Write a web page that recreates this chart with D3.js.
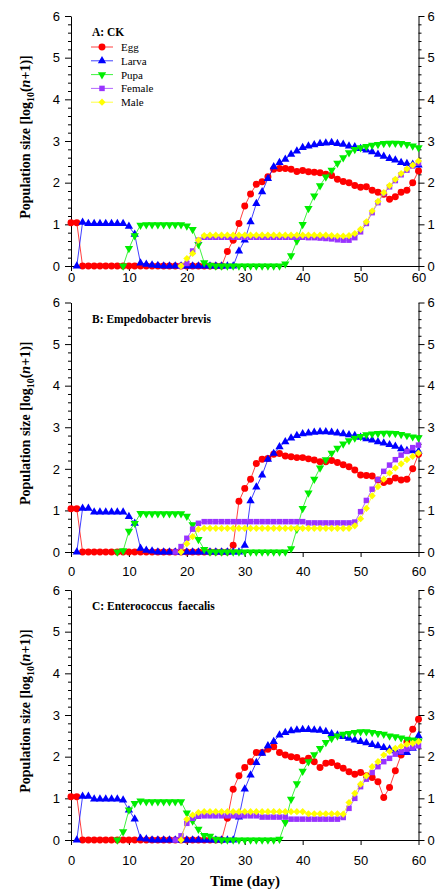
<!DOCTYPE html>
<html>
<head>
<meta charset="utf-8">
<script src="https://cdn.jsdelivr.net/npm/d3@7"></script>
<style>
    body { margin: 0; background: #fff; }
    svg { display: block; }
    .tick text { font-family: Arial, "Liberation Sans", sans-serif; font-size: 13px; fill: #000; }
    .domain, .tick line { stroke: #000; stroke-width: 1px; }
</style>
</head>
<body>
<div id="chart"></div>
<script>
// ---------- data ----------
const days = d3.range(0, 61);
const stageNames = ["Egg", "Larva", "Pupa", "Female", "Male"];
const stageColors = ["#ff0000", "#0000ff", "#00ee00", "#9933ff", "#ffff00"];
const xTicks = [0, 10, 20, 30, 40, 50, 60];
const yTicks = [0, 1, 2, 3, 4, 5, 6];
const panelTitles = ["A: CK", "B: Empedobacter brevis", "C: Enterococcus  faecalis"];

// one value per day (0..60), null = stage not yet present
// A: CK
const eggA = [1.04, 1.04, 0, 0, 0, 0, 0, 0, 0, 0,
    0, 0, 0, 0, 0, 0, 0, 0, 0, 0,
    0, 0, 0, 0, 0, 0, 0, 0.35, 0.62, 1.02,
    1.44, 1.73, 1.96, 2.02, 2.14, 2.32, 2.34, 2.34, 2.32, 2.27,
    2.29, 2.26, 2.25, 2.24, 2.2, 2.17, 2.08, 2.03, 2.0, 1.93,
    1.89, 1.9, 1.82, 1.77, 1.72, 1.6, 1.66, 1.77, 1.82, 2.0,
    2.28];
const larvaA = [null, 0, 1.05, 1.02, 1.02, 1.02, 1.02, 1.02, 1.02, 1.02,
    0.95, 0.76, 0.07, 0.04, 0.02, 0.01, 0, 0, 0, 0,
    0, 0, 0, 0, 0, 0, 0, 0, 0, 0.36,
    0.62, 1.06, 1.5, 1.78, 2.1, 2.38, 2.48, 2.56, 2.68, 2.76,
    2.84, 2.88, 2.91, 2.94, 2.95, 2.96, 2.94, 2.92, 2.88, 2.86,
    2.82, 2.78, 2.74, 2.68, 2.63, 2.58, 2.54, 2.48, 2.46, 2.44,
    2.42];
const pupaA = [null, null, null, null, null, null, null, null, null, 0,
    0.42, 0.73, 0.98, 0.99, 0.99, 0.99, 0.99, 0.99, 0.99, 0.99,
    0.96, 0.88, 0.52, 0.08, 0.02, 0, 0, 0, 0, 0,
    0, 0, 0, 0, 0, 0, 0, 0.05, 0.25, 0.6,
    1.0, 1.38, 1.68, 1.93, 2.14, 2.3, 2.47, 2.6, 2.72, 2.8,
    2.84, 2.87, 2.9, 2.92, 2.94, 2.95, 2.95, 2.94, 2.92, 2.88,
    2.84];
const femaleA = [null, null, null, null, null, null, null, null, null, null,
    null, null, null, null, null, null, null, null, null, 0,
    0.06, 0.36, 0.62, 0.69, 0.69, 0.69, 0.69, 0.69, 0.69, 0.69,
    0.69, 0.69, 0.69, 0.69, 0.69, 0.69, 0.69, 0.69, 0.69, 0.69,
    0.69, 0.68, 0.68, 0.67, 0.66, 0.65, 0.63, 0.62, 0.62, 0.68,
    0.82, 1.02, 1.28, 1.52, 1.74, 1.9, 2.05, 2.19, 2.3, 2.4,
    2.47];
const maleA = [null, null, null, null, null, null, null, null, null, null,
    null, null, null, null, null, null, null, null, null, 0,
    0.18, 0.3, 0.62, 0.73, 0.74, 0.74, 0.74, 0.74, 0.74, 0.74,
    0.74, 0.74, 0.74, 0.74, 0.74, 0.74, 0.74, 0.74, 0.74, 0.74,
    0.74, 0.74, 0.74, 0.74, 0.74, 0.73, 0.72, 0.72, 0.73, 0.78,
    0.88, 1.06, 1.32, 1.55, 1.76, 1.93, 2.08, 2.22, 2.33, 2.42,
    2.52];

// B: Empedobacter brevis
const eggB = [1.04, 1.04, 0, 0, 0, 0, 0, 0, 0, 0,
    0, 0, 0, 0, 0, 0, 0, 0, 0, 0,
    0, 0, 0, 0, 0, 0, 0, 0, 0.16, 1.22,
    1.53, 1.75, 2.13, 2.23, 2.25, 2.35, 2.37, 2.31, 2.29, 2.27,
    2.27, 2.24, 2.21, 2.17, 2.17, 2.2, 2.15, 2.1, 2.05, 1.97,
    1.85, 1.84, 1.83, 1.73, 1.67, 1.7, 1.78, 1.73, 1.75, 2.0,
    2.35];
const larvaB = [null, 0, 1.05, 1.05, 0.96, 0.96, 0.96, 0.96, 0.96, 0.96,
    0.85, 0.69, 0.09, 0.04, 0.02, 0, 0, 0, 0, 0,
    0, 0, 0, 0, 0, 0, 0, 0, 0, 0,
    0.16, 1.23, 1.56, 1.85, 2.23, 2.37, 2.53, 2.65, 2.74, 2.8,
    2.84, 2.86, 2.88, 2.89, 2.89, 2.88, 2.86, 2.84, 2.82, 2.8,
    2.76, 2.72, 2.69, 2.65, 2.62, 2.58, 2.54, 2.48, 2.44, 2.43,
    2.42];
const pupaB = [null, null, null, null, null, null, null, null, 0, 0.03,
    0.5, 0.69, 0.93, 0.92, 0.92, 0.92, 0.92, 0.92, 0.92, 0.92,
    0.86, 0.66, 0.3, 0.06, 0, 0, 0, 0, 0, 0,
    0, 0, 0, 0, 0, 0, 0, 0, 0.08, 0.55,
    1.05, 1.42, 1.75, 2.02, 2.22, 2.38, 2.5, 2.6, 2.68, 2.74,
    2.78, 2.82, 2.84, 2.85, 2.86, 2.86, 2.85, 2.83, 2.8, 2.77,
    2.75];
const femaleB = [null, null, null, null, null, null, null, null, null, null,
    null, null, null, null, null, null, null, null, 0, 0.13,
    0.33, 0.55, 0.69, 0.73, 0.73, 0.73, 0.73, 0.73, 0.73, 0.73,
    0.73, 0.73, 0.73, 0.73, 0.73, 0.73, 0.73, 0.73, 0.73, 0.73,
    0.73, 0.7, 0.7, 0.7, 0.7, 0.7, 0.7, 0.7, 0.7, 0.72,
    0.97, 1.24, 1.51, 1.74, 1.94, 2.09, 2.22, 2.33, 2.42, 2.51,
    2.57];
const maleB = [null, null, null, null, null, null, null, null, null, null,
    null, null, null, null, null, null, null, null, null, 0,
    0.2, 0.37, 0.55, 0.57, 0.57, 0.57, 0.57, 0.57, 0.57, 0.57,
    0.57, 0.57, 0.57, 0.57, 0.57, 0.57, 0.57, 0.57, 0.57, 0.57,
    0.57, 0.57, 0.57, 0.57, 0.57, 0.57, 0.57, 0.57, 0.57, 0.63,
    0.8, 1.05, 1.35, 1.57, 1.75, 1.9, 2.02, 2.12, 2.22, 2.3,
    2.38];

// C: Enterococcus faecalis
const eggC = [1.04, 1.04, 0, 0, 0, 0, 0, 0, 0, 0,
    0, 0, 0, 0, 0, 0, 0, 0, 0, 0,
    0, 0, 0, 0, 0, 0, 0, 0.52, 1.22, 1.54,
    1.74, 1.88, 2.1, 2.1, 2.18, 2.24, 2.1, 2.04, 2.0, 1.98,
    1.9, 1.96, 1.88, 1.74, 1.84, 1.86, 1.78, 1.72, 1.64, 1.58,
    1.62, 1.54, 1.5, 1.4, 1.02, 1.26, 1.66, 2.04, 2.35, 2.66,
    2.9];
const larvaC = [null, 0, 1.05, 1.05, 0.98, 0.98, 0.98, 0.98, 0.98, 0.96,
    0.72, 0.5, 0.04, 0.02, 0, 0, 0, 0, 0, 0,
    0, 0, 0, 0, 0, 0, 0, 0, 0, 0.55,
    1.22, 1.56, 1.86, 2.08, 2.26, 2.36, 2.52, 2.58, 2.62, 2.64,
    2.65, 2.65, 2.64, 2.63, 2.6, 2.55, 2.52, 2.48, 2.44, 2.4,
    2.36, 2.33, 2.29, 2.26, 2.22, 2.18, 2.14, 2.1, 2.1, 2.2,
    2.5];
const pupaC = [null, null, null, null, null, null, null, null, 0, 0.2,
    0.72, 0.88, 0.94, 0.92, 0.92, 0.92, 0.92, 0.92, 0.92, 0.92,
    0.65, 0.46, 0.26, 0.11, 0.09, 0.02, 0, 0, 0, 0,
    0, 0, 0, 0, 0, 0, 0.02, 0.42, 0.98, 1.35,
    1.65, 1.88, 2.05, 2.2, 2.34, 2.44, 2.5, 2.54, 2.56, 2.58,
    2.6, 2.6, 2.58, 2.56, 2.54, 2.5, 2.48, 2.45, 2.42, 2.4,
    2.38];
const femaleC = [null, null, null, null, null, null, null, null, null, null,
    null, null, null, null, null, null, null, null, 0, 0.1,
    0.4, 0.52, 0.57, 0.58, 0.58, 0.58, 0.58, 0.58, 0.58, 0.58,
    0.58, 0.58, 0.58, 0.55, 0.55, 0.55, 0.55, 0.55, 0.5, 0.5,
    0.5, 0.5, 0.5, 0.5, 0.5, 0.5, 0.5, 0.54, 0.76, 1.0,
    1.28, 1.46, 1.62, 1.76, 1.88, 1.96, 2.06, 2.12, 2.18, 2.22,
    2.26];
const maleC = [null, null, null, null, null, null, null, null, null, null,
    null, null, null, null, null, null, null, null, null, 0,
    0.5, 0.6, 0.66, 0.68, 0.68, 0.68, 0.68, 0.68, 0.68, 0.68,
    0.68, 0.68, 0.68, 0.68, 0.68, 0.68, 0.68, 0.68, 0.68, 0.68,
    0.68, 0.63, 0.63, 0.63, 0.63, 0.63, 0.63, 0.62, 0.9, 1.12,
    1.34, 1.54, 1.76, 1.88, 2.04, 2.13, 2.2, 2.25, 2.3, 2.32,
    2.36];

// ---------- chart ----------
const WIDTH = 438, HEIGHT = 891;
const svg = d3.select("#chart").append("svg")
    .attr("width", WIDTH)
    .attr("height", HEIGHT);

// marker shape for each stage (pupa = upside down triangle, male = diamond)
const symbols = [
    d3.symbol().type(d3.symbolCircle).size(38),
    d3.symbol().type(d3.symbolTriangle).size(30),
    d3.symbol().type(d3.symbolTriangle).size(30),
    d3.symbol().type(d3.symbolSquare).size(30),
    d3.symbol().type(d3.symbolSquare).size(26)
];
const rotations = [0, 0, 180, 0, 45];

class StagePanel {
    constructor(opts) {
        this.opts = opts;
        this.initVis();
    }

    initVis() {
        const vis = this;
        const o = vis.opts;

        vis.LEFT = 71;
        vis.RIGHT = 418.5;
        vis.g = svg.append("g");

        vis.x = d3.scaleLinear().domain([0, 60]).range([vis.LEFT, vis.RIGHT]);
        vis.y = d3.scaleLinear().domain([0, 6]).range([o.bottom, o.top]);

        const minor = d3.range(0, 30).map(i => i * 0.2).filter(v => Math.abs(v - Math.round(v)) > 0.01);
        const fmt = d3.format("d");

        // left axis, majors + minors
        vis.g.append("g")
            .attr("transform", `translate(${vis.LEFT},0)`)
            .call(d3.axisLeft(vis.y).tickValues(yTicks).tickFormat(fmt)
                .tickSize(6).tickSizeOuter(0).tickPadding(5));
        vis.g.append("g")
            .attr("transform", `translate(${vis.LEFT},0)`)
            .call(d3.axisLeft(vis.y).tickValues(minor).tickSize(3).tickFormat(""))
            .select(".domain").remove();

        // right axis (labels sit at the page edge as in the original)
        vis.g.append("g")
            .attr("transform", `translate(${vis.RIGHT},0)`)
            .call(d3.axisRight(vis.y).tickValues(yTicks).tickFormat(fmt)
                .tickSize(6).tickSizeOuter(0).tickPadding(3));
        vis.g.append("g")
            .attr("transform", `translate(${vis.RIGHT},0)`)
            .call(d3.axisRight(vis.y).tickValues(minor).tickSize(3).tickFormat(""))
            .select(".domain").remove();

        // bottom axis
        vis.g.append("g")
            .attr("transform", `translate(0,${o.bottom})`)
            .call(d3.axisBottom(vis.x).tickValues(xTicks).tickSize(5).tickSizeOuter(0).tickPadding(o.xPad));

        // y-axis label
        const yl = vis.g.append("text")
            .attr("transform", `translate(30,${(o.top + o.bottom) / 2 - 4}) rotate(-90)`)
            .attr("text-anchor", "middle")
            .attr("font-family", "'Liberation Serif', 'Times New Roman', serif")
            .attr("font-weight", "bold")
            .attr("font-size", "14px");
        yl.append("tspan").text("Population size [log");
        yl.append("tspan").attr("font-size", "10px").attr("dy", 4).text("10");
        yl.append("tspan").attr("dy", -4).text("(");
        yl.append("tspan").attr("font-style", "italic").text("n");
        yl.append("tspan").text("+1)]");

        // panel title
        vis.g.append("text")
            .attr("x", 92)
            .attr("y", o.titleY)
            .attr("font-family", "'Liberation Serif', 'Times New Roman', serif")
            .attr("font-weight", "bold")
            .attr("font-size", "11.5px")
            .style("white-space", "pre")
            .text(o.title);

        vis.updateVis();
    }

    updateVis() {
        const vis = this;
        const o = vis.opts;

        const line = d3.line()
            .defined(d => d != null)
            .x((d, i) => vis.x(days[i]))
            .y(d => vis.y(d));

        o.series.forEach((vals, k) => {
            vis.g.append("path")
                .attr("d", line(vals))
                .attr("fill", "none")
                .attr("stroke", stageColors[k])
                .attr("stroke-opacity", 0.75)
                .attr("stroke-width", 1);

            vis.g.selectAll(null)
                .data(days.filter(d => vals[d] != null))
                .enter().append("path")
                .attr("d", symbols[k]())
                .attr("transform", d => `translate(${vis.x(d)},${vis.y(vals[d])}) rotate(${rotations[k]})`)
                .attr("fill", stageColors[k]);
        });

        if (o.legend) vis.drawLegend();
    }

    drawLegend() {
        const vis = this;
        const leg = vis.g.append("g").attr("class", "legend");
        stageNames.forEach((name, k) => {
            const yy = 47 + k * 13.8;
            leg.append("line")
                .attr("x1", 91).attr("x2", 113)
                .attr("y1", yy).attr("y2", yy)
                .attr("stroke", stageColors[k])
                .attr("stroke-opacity", 0.75);
            leg.append("path")
                .attr("d", symbols[k]())
                .attr("transform", `translate(102,${yy}) rotate(${rotations[k]})`)
                .attr("fill", stageColors[k]);
            leg.append("text")
                .attr("x", 121)
                .attr("y", yy + 4)
                .attr("font-family", "'Liberation Serif', 'Times New Roman', serif")
                .attr("font-size", "11px")
                .text(name);
        });
    }
}

new StagePanel({ top: 16, bottom: 266, xPad: 1.5, title: panelTitles[0], titleY: 36, legend: true,
    series: [eggA, larvaA, pupaA, femaleA, maleA] });
new StagePanel({ top: 302.5, bottom: 552, xPad: 10, title: panelTitles[1], titleY: 323, legend: false,
    series: [eggB, larvaB, pupaB, femaleB, maleB] });
new StagePanel({ top: 590, bottom: 840, xPad: 10.5, title: panelTitles[2], titleY: 610, legend: false,
    series: [eggC, larvaC, pupaC, femaleC, maleC] });

// x-axis title
svg.append("text")
    .attr("x", 245)
    .attr("y", 886)
    .attr("text-anchor", "middle")
    .attr("font-family", "'Liberation Serif', 'Times New Roman', serif")
    .attr("font-weight", "bold")
    .attr("font-size", "15px")
    .text("Time (day)");
</script>
</body>
</html>
